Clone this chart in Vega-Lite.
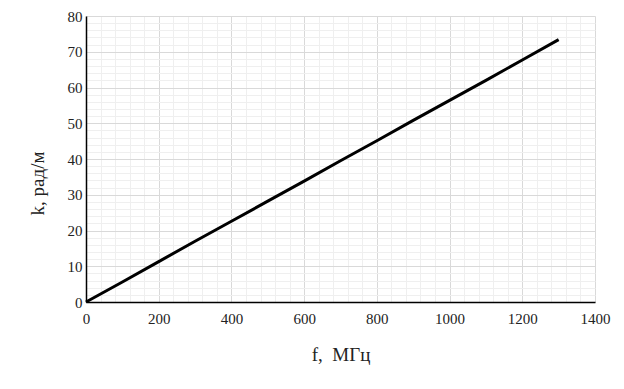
{
  "$schema": "https://vega.github.io/schema/vega-lite/v6.json",
  "width": 509,
  "height": 286,
  "autosize": {"type": "none"},
  "padding": {"left": 86, "top": 16, "right": 29, "bottom": 87},
  "background": "white",
  "config": {
    "view": {"stroke": null},
    "font": "Liberation Serif",
    "style": {"guide-label": {"font": "Liberation Serif"}, "guide-title": {"font": "Liberation Serif"}},
    "axis": {"labelFont": "Liberation Serif", "titleFont": "Liberation Serif"}
  },
  "data": {
    "values": [
      {"f": 0, "k": 0},
      {"f": 100, "k": 5.6},
      {"f": 200, "k": 11.3},
      {"f": 300, "k": 17.0},
      {"f": 400, "k": 22.6},
      {"f": 500, "k": 28.2},
      {"f": 600, "k": 33.8},
      {"f": 700, "k": 39.5},
      {"f": 800, "k": 45.1},
      {"f": 900, "k": 50.8},
      {"f": 1000, "k": 56.4},
      {"f": 1100, "k": 62.0},
      {"f": 1200, "k": 67.7},
      {"f": 1300, "k": 73.4}
    ]
  },
  "mark": {"type": "line", "color": "black", "strokeWidth": 3},
  "encoding": {
    "x": {
      "field": "f",
      "type": "quantitative",
      "scale": {"domain": [0, 1400], "nice": false},
      "axis": {
        "title": "f,\u00a0 МГц",
        "format": "d",
        "values": [0,40,80,120,160,200,240,280,320,360,400,440,480,520,560,600,640,680,720,760,800,840,880,920,960,1000,1040,1080,1120,1160,1200,1240,1280,1320,1360,1400],
        "labelExpr": "datum.value % 200 === 0 ? datum.label : ''",
        "labelFont": "Liberation Serif",
        "labelFontSize": 15,
        "labelColor": "#222",
        "labelPadding": 9,
        "labelFlush": false,
        "labelOverlap": false,
        "ticks": false,
        "domainColor": "black",
        "domainWidth": 1.5,
        "gridColor": {"condition": {"test": "datum.value % 200 === 0", "value": "#d9d9d9"}, "value": "#efefef"},
        "gridWidth": 1,
        "titleFontSize": 19,
        "titleFontWeight": "normal",
        "titleColor": "#222",
        "titlePadding": 19
      }
    },
    "y": {
      "field": "k",
      "type": "quantitative",
      "scale": {"domain": [0, 80], "nice": false},
      "axis": {
        "title": "k, рад/м",
        "format": "d",
        "values": [0,2,4,6,8,10,12,14,16,18,20,22,24,26,28,30,32,34,36,38,40,42,44,46,48,50,52,54,56,58,60,62,64,66,68,70,72,74,76,78,80],
        "labelExpr": "datum.value % 10 === 0 ? datum.label : ''",
        "labelFont": "Liberation Serif",
        "labelFontSize": 15,
        "labelColor": "#222",
        "labelPadding": 4,
        "labelFlush": false,
        "labelOverlap": false,
        "ticks": false,
        "domainColor": "black",
        "domainWidth": 1.5,
        "gridColor": {"condition": {"test": "datum.value % 10 === 0", "value": "#d9d9d9"}, "value": "#efefef"},
        "gridWidth": 1,
        "titleFontSize": 19,
        "titleFontWeight": "normal",
        "titleColor": "#222",
        "titleX": -49,
        "titleY": 167,
        "titleAngle": -90,
        "titleBaseline": "middle",
        "titleAlign": "center"
      }
    }
  }
}
